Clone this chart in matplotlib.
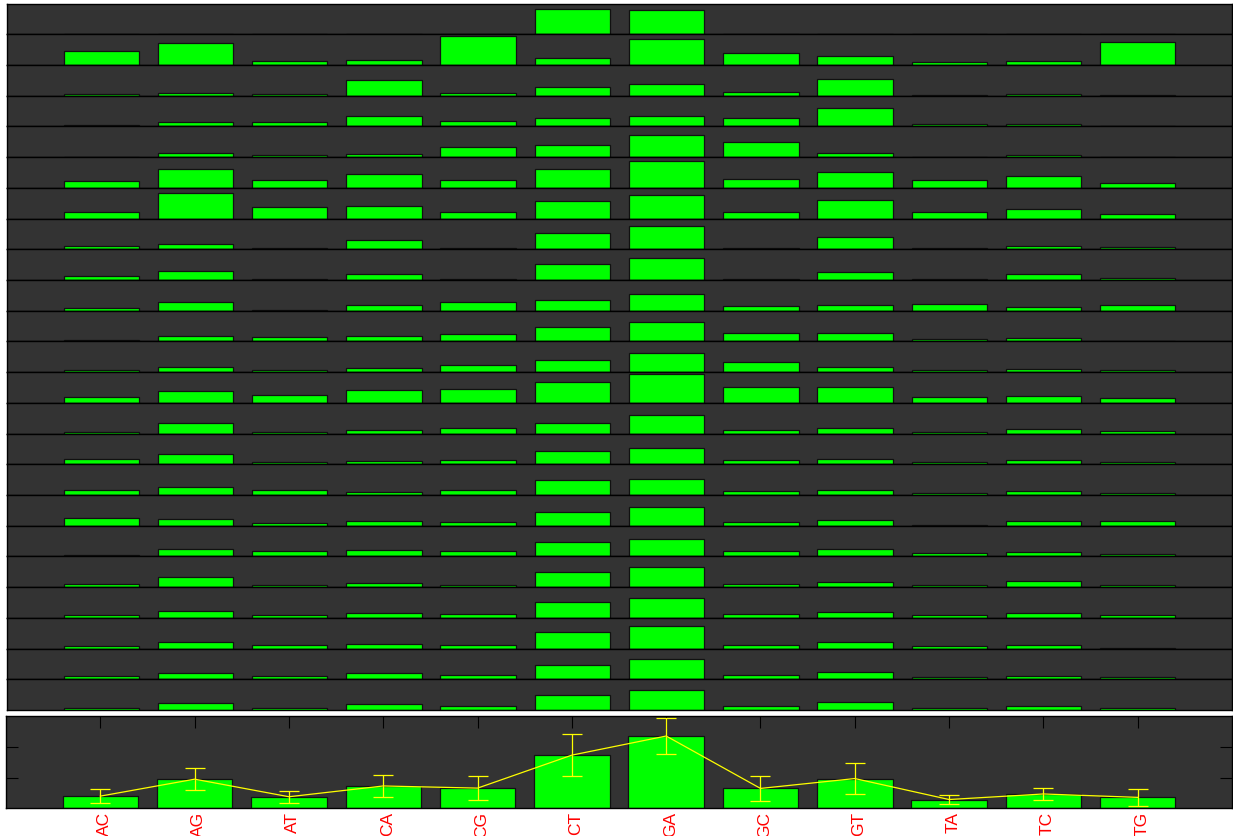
import numpy as np
import matplotlib
matplotlib.use("Agg")
import matplotlib.pyplot as plt
import matplotlib.transforms as mtransforms

plt.rcParams['font.family'] = ['Liberation Sans', 'DejaVu Sans']

dinucs = ["AC", "AG", "AT", "CA", "CG", "CT", "GA", "GC", "GT", "TA", "TC", "TG"]

# one row of counts per sample, in the order of dinucs
s01 = [0.05, 0.07, 0.05, 0.05, 0.05, 2.93, 2.86, 0.05, 0.05, 0.05, 0.05, 0.05]
s02 = [1.64, 2.58, 0.43, 0.55, 3.36, 0.86, 3.01, 1.37, 1.02, 0.31, 0.43, 2.70]
s03 = [0.24, 0.35, 0.24, 1.84, 0.35, 0.97, 1.37, 0.47, 1.92, 0.12, 0.24, 0.08]
s04 = [0.19, 0.55, 0.47, 1.18, 0.66, 0.97, 1.25, 0.94, 2.18, 0.28, 0.28, 0.10]
s05 = [0.05, 0.43, 0.19, 0.40, 1.13, 1.37, 2.58, 1.72, 0.43, 0.05, 0.19, 0.05]
s06 = [0.78, 2.23, 0.94, 1.60, 0.94, 2.23, 3.12, 1.09, 1.87, 0.86, 1.44, 0.55]
s07 = [0.78, 2.96, 1.40, 1.44, 0.78, 2.08, 2.74, 0.78, 2.23, 0.78, 1.09, 0.55]
s08 = [0.40, 0.66, 0.10, 1.06, 0.10, 1.90, 2.68, 0.10, 1.40, 0.10, 0.43, 0.31]
s09 = [0.43, 1.02, 0.08, 0.71, 0.08, 1.84, 2.54, 0.08, 0.94, 0.08, 0.74, 0.28]
s10 = [0.28, 1.06, 0.08, 0.66, 0.97, 1.25, 1.92, 0.55, 0.66, 0.74, 0.47, 0.62]
s11 = [0.19, 0.66, 0.47, 0.66, 0.82, 1.64, 2.23, 0.94, 0.94, 0.24, 0.35, 0.10]
s12 = [0.24, 0.59, 0.24, 0.50, 0.82, 1.40, 2.23, 1.13, 0.66, 0.24, 0.31, 0.24]
s13 = [0.66, 1.44, 0.94, 1.52, 1.64, 2.50, 3.36, 1.87, 1.87, 0.66, 0.78, 0.55]
s14 = [0.24, 1.25, 0.24, 0.43, 0.71, 1.28, 2.23, 0.47, 0.71, 0.24, 0.55, 0.35]
s15 = [0.66, 1.18, 0.31, 0.35, 0.55, 1.52, 1.87, 0.55, 0.59, 0.24, 0.47, 0.31]
s16 = [0.55, 0.90, 0.59, 0.31, 0.62, 1.72, 1.84, 0.43, 0.55, 0.28, 0.47, 0.19]
s17 = [0.86, 0.78, 0.28, 0.50, 0.40, 1.64, 2.23, 0.40, 0.62, 0.12, 0.50, 0.59]
s18 = [0.12, 0.90, 0.66, 0.71, 0.59, 1.68, 1.99, 0.59, 0.82, 0.35, 0.47, 0.24]
s19 = [0.35, 1.18, 0.24, 0.47, 0.31, 1.75, 2.34, 0.40, 0.59, 0.24, 0.71, 0.31]
s20 = [0.35, 0.86, 0.35, 0.59, 0.43, 1.84, 2.30, 0.43, 0.66, 0.35, 0.55, 0.35]
s21 = [0.28, 0.74, 0.40, 0.59, 0.47, 1.92, 2.62, 0.43, 0.74, 0.28, 0.40, 0.12]
s22 = [0.35, 0.78, 0.35, 0.71, 0.55, 1.64, 2.42, 0.47, 0.86, 0.24, 0.40, 0.24]
s23 = [0.28, 0.82, 0.28, 0.71, 0.43, 1.75, 2.30, 0.43, 0.90, 0.28, 0.43, 0.28]
samples = [s01, s02, s03, s04, s05, s06, s07, s08, s09, s10, s11, s12,
           s13, s14, s15, s16, s17, s18, s19, s20, s21, s22, s23]

# summary panel
mean_vals = [0.40, 0.95, 0.38, 0.73, 0.66, 1.73, 2.35, 0.65, 0.97, 0.29, 0.47, 0.36]
err_vals = [0.23, 0.35, 0.19, 0.37, 0.40, 0.67, 0.59, 0.40, 0.50, 0.15, 0.18, 0.27]

bg = "#333333"
green = "#00ff00"
x = np.arange(1, len(dinucs) + 1)

fig = plt.figure(figsize=(12.33, 8.37), dpi=100)

left, right = 0.0057, 0.9992
top, bottom = 0.9946, 0.1505
row_h = (top - bottom) / len(samples)

for i, vals in enumerate(samples):
    ax = fig.add_axes([left, top - (i + 1) * row_h, right - left, row_h])
    ax.set_facecolor(bg)
    ax.bar(x, vals, width=0.8, color=green, edgecolor="#111111", linewidth=0.9)
    ax.set_xlim(0, 13)
    ax.set_ylim(0, 3.6)
    ax.set_xticks([])
    ax.set_yticks([])
    for s in ax.spines.values():
        s.set_color("black")
        s.set_linewidth(1.0)

# mean +/- error across samples
ax = fig.add_axes([0.0049, 0.0329, 0.9943, 0.1105])
ax.set_facecolor(bg)
ax.bar(x, mean_vals, width=0.8, color=green, edgecolor="#111111", linewidth=0.9)
ax.plot(x, mean_vals, color="yellow", linewidth=0.9)
ax.errorbar(x, mean_vals, yerr=err_vals, fmt="none", ecolor="yellow",
            elinewidth=0.9, capsize=7.5, capthick=0.9, clip_on=False)
ax.set_xlim(0, 13)
ax.set_ylim(0, 3)
ax.set_xticks(x)
ax.set_xticklabels(dinucs, rotation=90, color="red", fontsize=12.5)
ax.set_yticks([1, 2])
ax.set_yticklabels([])
ax.tick_params(axis="x", direction="in", top=True, bottom=False,
               labelbottom=True, length=8.5, width=0.8, pad=2)
ax.tick_params(axis="y", direction="in", left=True, right=True,
               length=8.5, width=0.8)
for s in ax.spines.values():
    s.set_color("black")
    s.set_linewidth(1.0)

# nudge the rotated labels a little to the right
shift = mtransforms.ScaledTranslation(4 / 100, 0, fig.dpi_scale_trans)
for lbl in ax.get_xticklabels():
    lbl.set_transform(lbl.get_transform() + shift)

plt.savefig("out.png", dpi=100)
